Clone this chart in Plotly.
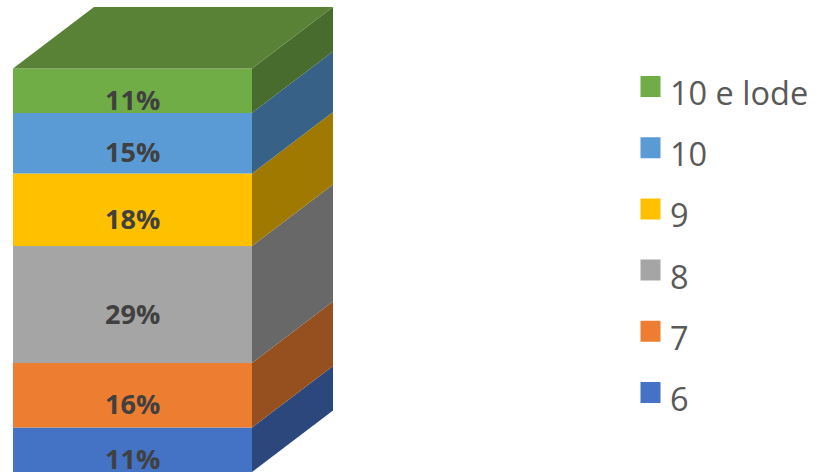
import plotly.graph_objects as go

W, H = 817, 473

# Data (bottom to top of the stack)
categories = ["6", "7", "8", "9", "10", "10 e lode"]
values = [11, 16, 29, 18, 15, 11]

# Styles
front_colors = ["#4472C4", "#ED7D31", "#A5A5A5", "#FFC000", "#5B9BD5", "#70AD47"]
side_colors = ["#2B477C", "#964F1E", "#686868", "#A07A00", "#376186", "#476C2D"]
top_color = "#598236"
label_color = "#404040"
legend_color = "#595959"

# Extrusion of the box, in axis units
DEPTH_X = 81 / 239
DEPTH_Y = 61.5 / 4.035
BAR_WIDTH = 1.0

fig = go.Figure()

bottoms = [sum(values[:i]) for i in range(len(values))]
total = sum(values)

# Front faces
for name, val, base, col in zip(categories, values, bottoms, front_colors):
    fig.add_trace(go.Bar(
        x=[BAR_WIDTH / 2], y=[val], base=[base], width=[BAR_WIDTH], name=name,
        marker=dict(color=col, line=dict(width=0)), showlegend=False, hoverinfo="skip",
    ))

# Side faces, derived from the values
for val, base, col in zip(values, bottoms, side_colors):
    fig.add_trace(go.Scatter(
        x=[BAR_WIDTH, BAR_WIDTH + DEPTH_X, BAR_WIDTH + DEPTH_X, BAR_WIDTH, BAR_WIDTH],
        y=[base, base + DEPTH_Y, base + val + DEPTH_Y, base + val, base],
        mode="lines", fill="toself", fillcolor=col, line=dict(width=0),
        showlegend=False, hoverinfo="skip",
    ))

# Top face
fig.add_trace(go.Scatter(
    x=[0, BAR_WIDTH, BAR_WIDTH + DEPTH_X, DEPTH_X, 0],
    y=[total, total, total + DEPTH_Y, total + DEPTH_Y, total],
    mode="lines", fill="toself", fillcolor=top_color, line=dict(width=0),
    showlegend=False, hoverinfo="skip",
))

# Manual legend on its own axes
fig.add_trace(go.Scatter(
    x=[0] * len(categories), y=list(range(len(categories))), xaxis="x2", yaxis="y2", mode="markers",
    marker=dict(symbol="square", size=21, color=front_colors, line=dict(width=0)),
    showlegend=False, hoverinfo="skip",
))

annotations = []
for val, base in zip(values, bottoms):
    annotations.append(dict(
        x=BAR_WIDTH / 2, y=base + val / 2, xref="x", yref="y", text=f"{val}%",
        showarrow=False, yshift=-8.5, xanchor="center", yanchor="middle",
        font=dict(family="Open Sans", size=27, color=label_color, weight="bold"),
    ))
for i, name in enumerate(categories):
    annotations.append(dict(
        x=0, y=i, xref="x2", yref="y2", text=name, showarrow=False,
        xanchor="left", yanchor="middle", xshift=17, yshift=-6,
        font=dict(family="Open Sans", size=32.5, color=legend_color),
    ))

fig.update_layout(
    width=W, height=H, margin=dict(l=0, r=0, t=0, b=0),
    paper_bgcolor="white", plot_bgcolor="white", barmode="overlay",
    showlegend=False, annotations=annotations,
    xaxis=dict(domain=[13 / W, 333 / W], range=[0, BAR_WIDTH + DEPTH_X], visible=False, fixedrange=True),
    yaxis=dict(domain=[1 / H, 466 / H], range=[0, total + DEPTH_Y], visible=False, fixedrange=True),
    xaxis2=dict(domain=[640.5 / W, 660.5 / W], range=[-1, 1], anchor="y2", visible=False, fixedrange=True),
    yaxis2=dict(domain=[49.9 / H, 417.1 / H], range=[-0.5, 5.5],
                anchor="x2", visible=False, fixedrange=True),
)

fig.write_html("out.html", config=dict(displayModeBar=False),
               post_script="document.body.style.margin='0';document.body.style.overflow='hidden';")
